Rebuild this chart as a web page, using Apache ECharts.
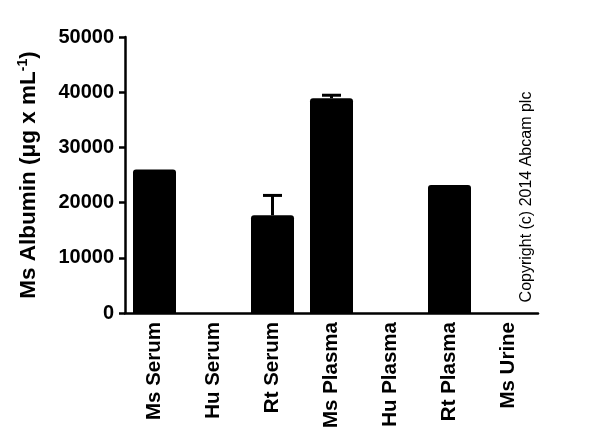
<!DOCTYPE html>
<html><head><meta charset="utf-8">
<script src="https://cdn.jsdelivr.net/npm/echarts@6/dist/echarts.min.js"></script>
<style>html,body{margin:0;padding:0;background:#fff}#c{width:600px;height:448px}</style>
</head><body><div id="c"></div>
<script>
var categories = ['Ms Serum','Hu Serum','Rt Serum','Ms Plasma','Hu Plasma','Rt Plasma','Ms Urine'];
var values = [26000, 0, 17700, 38900, 0, 23200, 0];
var errors = [0, 0, 3600, 550, 0, 0, 0];
var yTicks = [0, 10000, 20000, 30000, 40000, 50000];

var chart = echarts.init(document.getElementById('c'));
var font = 'Arial, "Liberation Sans", sans-serif';
chart.setOption({
  animation: false,
  grid: {left: 125, right: 62, top: 37, bottom: 135},
  xAxis: {
    type: 'category', data: categories,
    axisLine: {lineStyle: {color: '#000', width: 2.5}},
    axisTick: {lineStyle: {color: '#000', width: 2.5}, length: 6, alignWithLabel: true},
    axisLabel: {rotate: 90, color: '#000', fontWeight: 'bold', fontSize: 20.5, fontFamily: font, margin: 9}
  },
  yAxis: {
    type: 'value', min: yTicks[0], max: yTicks[yTicks.length-1], interval: 10000,
    splitLine: {show: false},
    axisLine: {show: true, lineStyle: {color: '#000', width: 2.5}},
    axisTick: {show: true, lineStyle: {color: '#000', width: 2.5}, length: 6},
    axisLabel: {color: '#000', fontWeight: 'bold', fontSize: 20, fontFamily: font, margin: 11,
      formatter: function(v){ return String(v); }},
    name: '{a|Ms Albumin (μg x mL}{s|-1}{a|)}',
    nameLocation: 'middle', nameGap: 83, nameRotate: 90,
    nameTextStyle: {rich: {
      a: {fontSize: 22.5, fontWeight: 'bold', color: '#000', fontFamily: font},
      s: {fontSize: 14, fontWeight: 'bold', color: '#000', fontFamily: font, verticalAlign: 'top', padding: [0,0,12,0]}
    }}
  },
  series: [
    {type: 'bar', data: values, barWidth: 43, itemStyle: {color: '#000', borderRadius: [3,3,0,0]}, z: 2},
    {type: 'custom', z: 3,
     data: values.map(function(v, i){ return [i, v, v + errors[i]]; }),
     renderItem: function(params, api){
       var e = api.value(2), v = api.value(1);
       if (e <= v) return null;
       var p0 = api.coord([api.value(0), v]);
       var p1 = api.coord([api.value(0), e]);
       return {type: 'group', children: [
         {type: 'line', shape: {x1: p0[0], y1: p0[1], x2: p1[0], y2: p1[1]}, style: {stroke: '#000', lineWidth: 3}},
         {type: 'line', shape: {x1: p1[0]-9.5, y1: p1[1], x2: p1[0]+9.5, y2: p1[1]}, style: {stroke: '#000', lineWidth: 3}}
       ]};
     }}
  ],
  graphic: [{
    type: 'text', x: 527, y: 197, rotation: Math.PI/2,
    style: {text: 'Copyright (c) 2014 Abcam plc', fontSize: 16, fontFamily: font, fill: '#000', align: 'center', verticalAlign: 'middle'}
  }]
});
</script></body></html>
